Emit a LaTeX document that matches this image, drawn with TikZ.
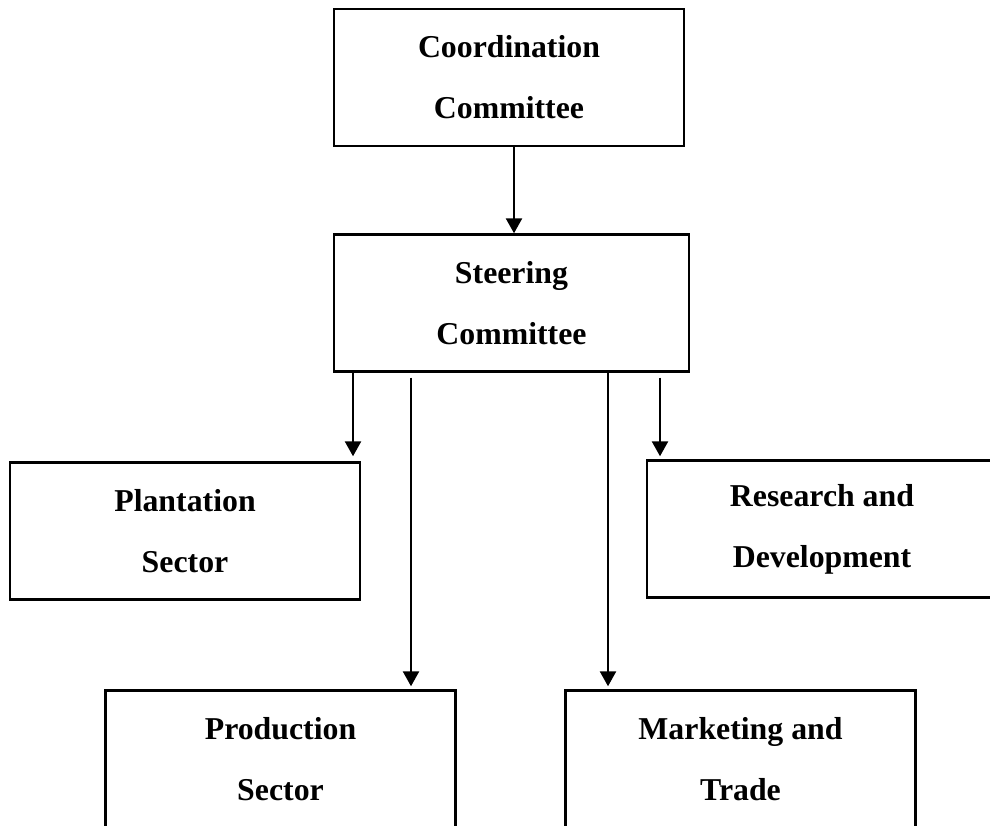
\documentclass[tikz,border=0pt]{standalone}
\usepackage{fontspec}
\setmainfont{Liberation Serif}
\usetikzlibrary{arrows.meta}

\begin{document}
\begin{tikzpicture}[x=0.02cm, y=-0.02cm, line width=1.4pt,
  box/.style = {draw, rectangle, minimum width=7cm, minimum height=2.74cm, align=center,
    font=\bfseries\fontsize{18.1}{34.6}\selectfont},
  arr/.style = {-{Triangle[length=0.3cm, width=0.32cm]}}]
\useasboundingbox (0,0) rectangle (990,825);
\clip (0,0) rectangle (990,825);
\node[box] (coord) at (509,77.5) {Coordination\\Committee};
\node[box, minimum width=7.1cm] (steer) at (511.5,303) {Steering\\Committee};
\node[box] (plant) at (185,531) {Plantation\\Sector};
\node[box] (research) at (822,529) {Research and\\Development};
\node[box] (prod) at (280.5,759) {Production\\Sector};
\node[box] (market) at (740.5,759) {Marketing and\\Trade};
% where the arrows leave the boxes
\coordinate (c1) at (514,0);
\coordinate (s1) at (353,0);
\coordinate (s2) at (411,0);
\coordinate (s3) at (608,0);
\coordinate (s4) at (660,0);
\draw[arr] (coord.south -| c1) -- (steer.north -| c1);
\draw[arr, shorten >=0.1cm] (steer.south -| s1) -- (plant.north -| s1);
\draw[arr, shorten <=0.1cm, shorten >=0.06cm] (steer.south -| s2) -- (prod.north -| s2);
\draw[arr, shorten >=0.06cm] (steer.south -| s3) -- (market.north -| s3);
\draw[arr, shorten <=0.1cm, shorten >=0.06cm] (steer.south -| s4) -- (research.north -| s4);
\end{tikzpicture}
\end{document}
